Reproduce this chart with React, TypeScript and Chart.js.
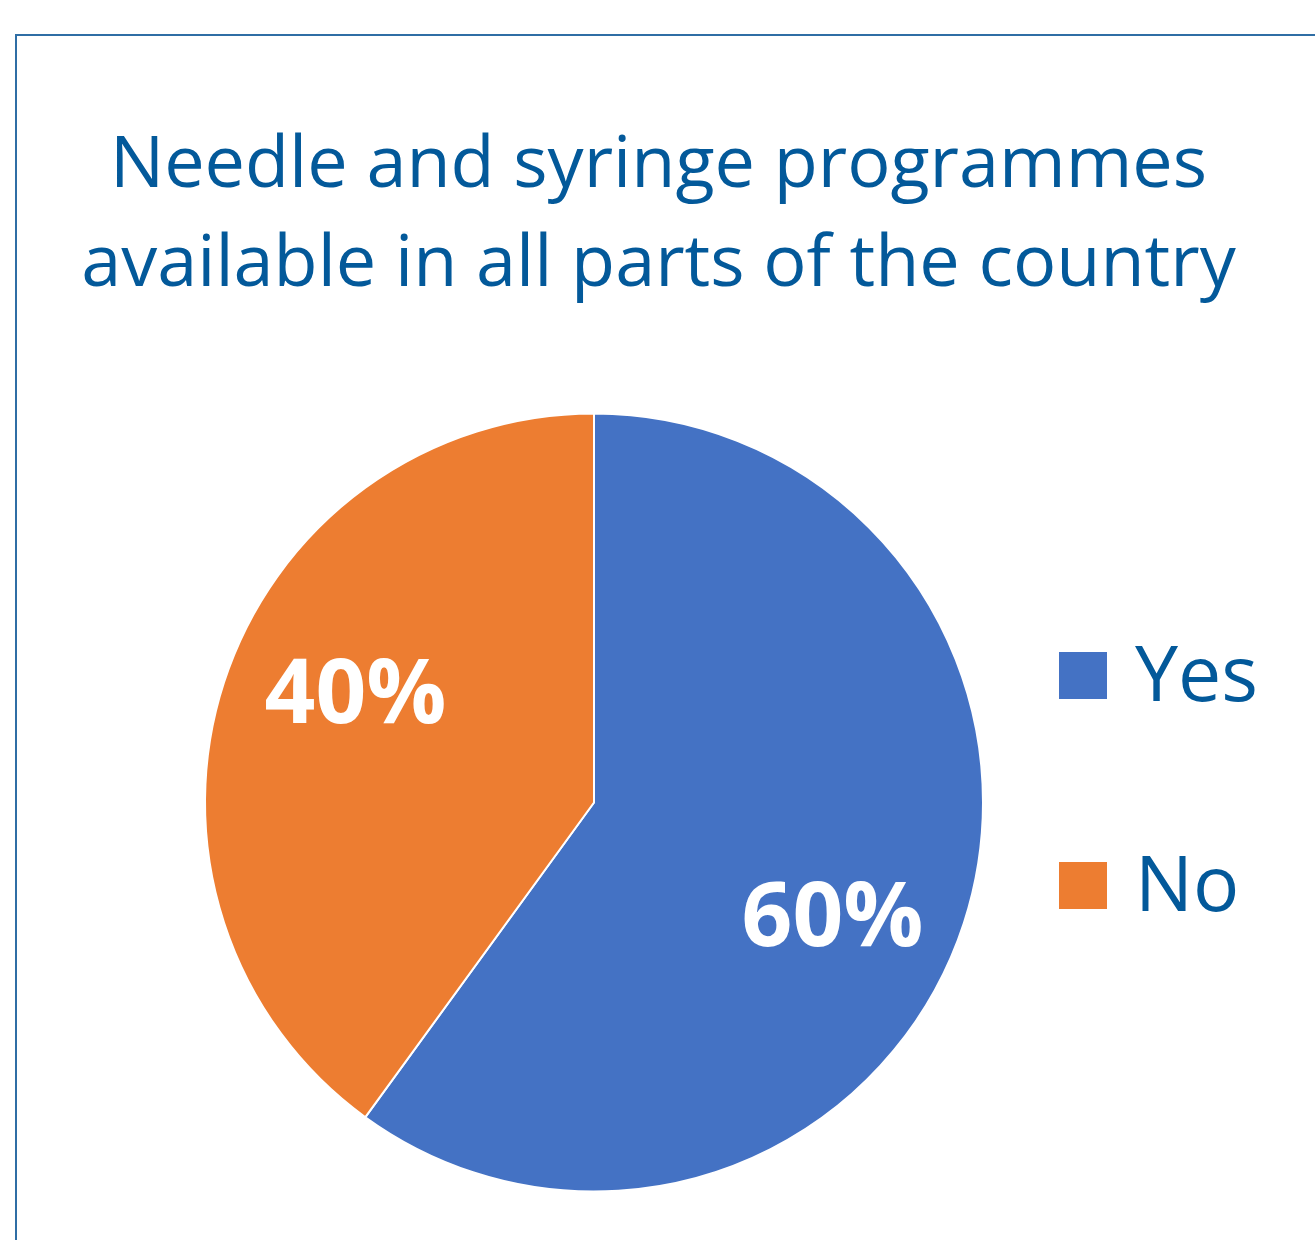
import React, { useEffect, useRef } from "react";
import { Chart, registerables } from "chart.js";

Chart.register(...registerables);

const TITLE_LINES = ["Needle and syringe programmes", "available in all parts of the country"];
const CATEGORIES = ["Yes", "No"];
const VALUES = [60, 40];
const COLORS = ["#4472C4", "#ED7D31"];
const TEXT_COLOR = "#03599A";
const FRAME_COLOR = "#2F6EA5";
const FONT = "'Open Sans', 'Noto Sans', sans-serif";
const LABEL_SIZE = 89;

const pctLabels = {
  id: "pctLabels",
  afterDatasetsDraw(chart: any) {
    const ctx = chart.ctx;
    const meta = chart.getDatasetMeta(0);
    const data = chart.data.datasets[0].data as number[];
    ctx.save();
    ctx.font = `bold ${LABEL_SIZE}px ${FONT}`;
    ctx.fillStyle = "#ffffff";
    ctx.textAlign = "center";
    ctx.textBaseline = "alphabetic";
    meta.data.forEach((arc: any, i: number) => {
      const { x, y, startAngle, endAngle, outerRadius } = arc.getProps(
        ["x", "y", "startAngle", "endAngle", "outerRadius"],
        true
      );
      const a = (startAngle + endAngle) / 2 + (7.1 * Math.PI) / 180;
      const r = outerRadius * 0.677;
      const px = x + Math.cos(a) * r;
      const py = y + Math.sin(a) * r;
      ctx.fillText(`${data[i]}%`, px, py + (LABEL_SIZE * 0.714) / 2);
    });
    ctx.restore();
  },
};

export default function App() {
  const canvasRef = useRef<HTMLCanvasElement | null>(null);

  useEffect(() => {
    if (!canvasRef.current) return;
    const chart = new Chart(canvasRef.current, {
      type: "pie",
      data: {
        labels: CATEGORIES,
        datasets: [
          {
            data: VALUES,
            backgroundColor: COLORS,
            borderColor: "#ffffff",
            borderWidth: 2,
          },
        ],
      },
      options: {
        responsive: false,
        animation: false,
        radius: 389,
        layout: { padding: { left: 0, right: 127, top: 413, bottom: 48 } },
        plugins: {
          legend: { display: false },
          title: { display: false },
          tooltip: { enabled: false },
        },
      } as any,
      plugins: [pctLabels],
    });
    return () => chart.destroy();
  }, []);

  return (
    <div
      style={{
        position: "fixed",
        left: 0,
        top: 0,
        width: 1315,
        height: 1240,
        overflow: "hidden",
        background: "#ffffff",
      }}
    >
      <div
        style={{
          position: "absolute",
          left: 15,
          top: 34,
          width: 1400,
          height: 1400,
          borderLeft: `2px solid ${FRAME_COLOR}`,
          borderTop: `2px solid ${FRAME_COLOR}`,
        }}
      />
      <canvas
        ref={canvasRef}
        width={1315}
        height={1240}
        style={{ position: "absolute", left: 0, top: 0, display: "block" }}
      />
      <div
        style={{
          position: "absolute",
          left: 1,
          top: 110,
          width: 1315,
          textAlign: "center",
          fontFamily: FONT,
          fontSize: 72,
          lineHeight: "99px",
          color: TEXT_COLOR,
          whiteSpace: "nowrap",
        }}
      >
        {TITLE_LINES.map((t) => (
          <div key={t}>{t}</div>
        ))}
      </div>
      {CATEGORIES.map((c, i) => (
        <React.Fragment key={c}>
          <div
            style={{
              position: "absolute",
              left: 1059,
              top: 652 + i * 210,
              width: 48,
              height: 47,
              background: COLORS[i],
            }}
          />
          <div
            style={{
              position: "absolute",
              left: 1135,
              top: 633 + i * 210,
              fontFamily: FONT,
              fontSize: 77,
              lineHeight: "77px",
              color: TEXT_COLOR,
              whiteSpace: "nowrap",
            }}
          >
            {c}
          </div>
        </React.Fragment>
      ))}
    </div>
  );
}
